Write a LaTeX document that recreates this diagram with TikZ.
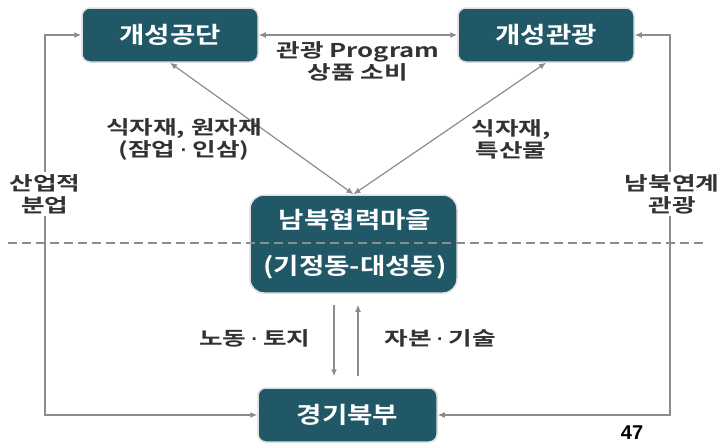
\documentclass[tikz,border=0pt]{standalone}
\usepackage{fontspec}
\newfontfamily\krnodefont{Noto Sans CJK KR}[BoldFont={Noto Sans CJK KR Bold},FakeStretch=1.2]
\newfontfamily\krlblfont{Noto Sans CJK KR}[BoldFont={Noto Sans CJK KR Bold},FakeStretch=1.35]
\newfontfamily\numfont{Liberation Sans}
\newcommand{\sepdot}{{\numfont\bfseries\ ·\ }}
\usepackage{tikz}
\usetikzlibrary{arrows.meta,positioning}
\definecolor{villageteal}{RGB}{33,88,104}
\definecolor{flowgray}{RGB}{140,140,140}
\definecolor{labelgray}{RGB}{50,50,50}

\tikzset{
 region/.style={fill=villageteal,draw=black!13,line width=1.5pt,
  rounded corners=8pt,text=white,
  font=\krnodefont\bfseries\fontsize{23}{27}\selectfont,
  minimum width=176pt,minimum height=54pt},
 flow/.style={draw=flowgray,line width=1.2pt,-{Latex[length=7pt,width=6pt]}},
 twoway/.style={flow,{Latex[length=7pt,width=6pt]}-{Latex[length=7pt,width=6pt]}},
 lbl/.style={text=labelgray,align=center,
  font=\krlblfont\bfseries\fontsize{19}{22}\selectfont},
 regiontext/.style={text=white,font=\krnodefont\bfseries\fontsize{23}{27}\selectfont}
}

\begin{document}
\begin{tikzpicture}[x=1pt,y=-1pt,line cap=butt,line join=miter]
 \useasboundingbox (0,0) rectangle (723,445);
 \node[region] (gongdan) at (170,35) {개성공단};
 \node[region] (gwangwang) at (546,35) {개성관광};
 \node[region,minimum width=207pt,minimum height=98pt,
  rounded corners=14pt] (maeul) at (353.5,244) {};
 \node[region,minimum width=179pt] (bukbu) at (347.5,415) {경기북부};
 % boundary line
 \draw[flowgray,line width=2.5pt,dash pattern=on 9pt off 5pt]
  (8,243)--(705,243);
 \node[regiontext] (maeulname) at (355,220) {남북협력마을};
 \node[regiontext] (maeulsub) at (355,267) {(기정동-대성동)};

 \draw[twoway] (gongdan) -- (gwangwang)
  node[lbl,midway,below=3pt] (tourlbl) {관광 Program\\상품 소비};
 \draw[twoway] (gongdan.south) -- (maeul.north);
 \draw[twoway] (gwangwang.south) -- (maeul.north);
 \node[lbl] (gongdanlbl) at (184,139) {식자재, 원자재\\(잠업\sepdot 인삼)};
 \node[lbl] (gwangwanglbl) at (511,139) {식자재,\\특산물};

 \coordinate (leftrail) at (45,0);
 \coordinate (rightrail) at (670,0);
 \draw[twoway] (gongdan.west) -| (leftrail |- bukbu) -- (bukbu.west);
 \draw[twoway] (gwangwang.east) -| (rightrail |- bukbu) -- (bukbu.east);
 \node[lbl,fill=white,inner sep=2pt] (bunup) at (45,194) {산업적\\분업};
 \node[lbl,fill=white,inner sep=2pt] (yeongye) at (672,194) {남북연계\\관광};

 \coordinate (down) at (334,0);
 \coordinate (up) at (358,0);
 \draw[flow,shorten <=11pt,shorten >=11pt] (down |- maeul.south) -- (down |- bukbu.north);
 \draw[flow,shorten <=11pt,shorten >=11pt] (up |- bukbu.north) -- (up |- maeul.south);
 \node[lbl,anchor=east] (labor) at (314,338) {노동\sepdot 토지};
 \node[lbl,anchor=west] (capital) at (381,338) {자본\sepdot 기술};

 \node[font=\numfont\bfseries\fontsize{20}{22}\selectfont] (pagenum) at (632,433) {47};
\end{tikzpicture}
\end{document}
